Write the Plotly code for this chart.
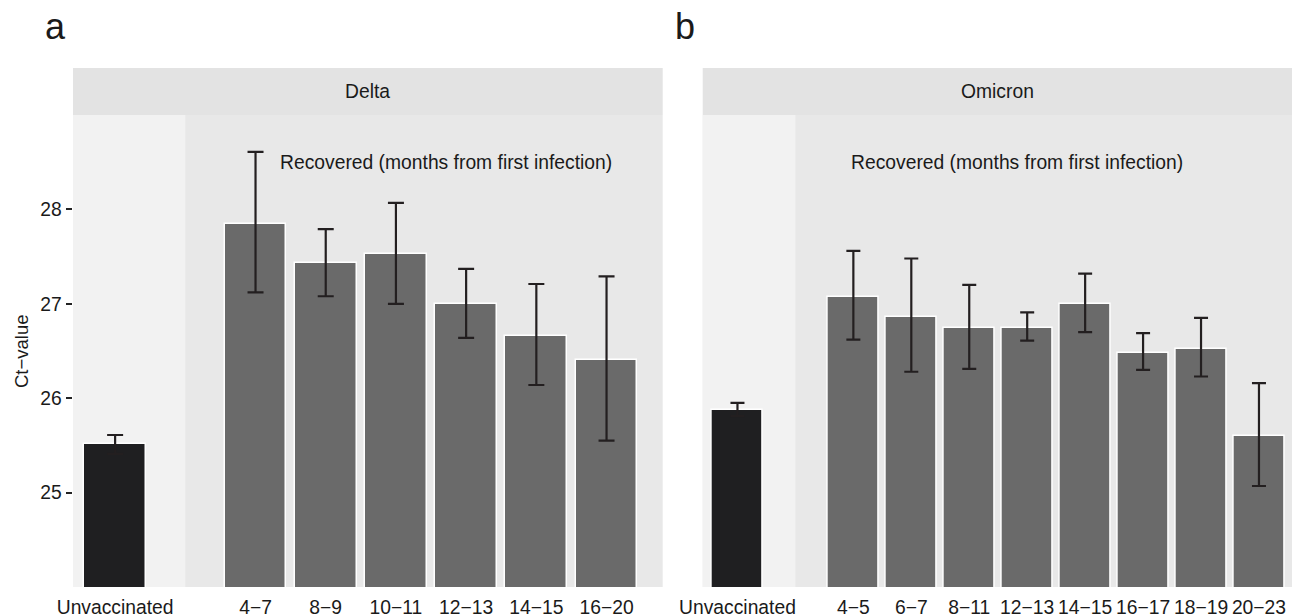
import plotly.graph_objects as go

# ---------------- data ----------------
delta_labels = ["Unvaccinated", "4−7", "8−9", "10−11", "12−13", "14−15", "16−20"]
delta_mean = [25.51, 27.85, 27.43, 27.53, 27.00, 26.66, 26.40]
delta_hi = [25.61, 28.61, 27.79, 28.07, 27.37, 27.21, 27.29]
delta_lo = [25.41, 27.12, 27.08, 27.00, 26.64, 26.14, 25.55]

omicron_labels = ["Unvaccinated", "4−5", "6−7", "8−11", "12−13", "14−15", "16−17", "18−19", "20−23"]
omicron_mean = [25.88, 27.07, 26.86, 26.74, 26.74, 27.00, 26.48, 26.52, 25.60]
omicron_hi = [25.95, 27.56, 27.48, 27.20, 26.91, 27.32, 26.69, 26.85, 26.16]
omicron_lo = [25.81, 26.62, 26.28, 26.31, 26.61, 26.70, 26.30, 26.23, 25.07]

panel_titles = ["Delta", "Omicron"]
panel_tags = ["a", "b"]
y_ticks = [25, 26, 27, 28]
note = "Recovered (months from first infection)"

# ---------------- layout helpers ----------------
W, H = 1292, 616
def px(x):
    return x / W
def py(y):
    return 1 - y / H

FONT = "Liberation Sans, Arial, sans-serif"
TXT = "#1a1a1a"
C_UNVAC = "#1f1f21"
C_REC = "#6a6a6a"
C_ERR = "#231f20"
C_PANEL = "#e8e8e8"
C_LIGHT = "#f2f2f2"
C_STRIP = "#e3e3e3"
FS = 19.3

panels = [
    dict(labels=delta_labels, mean=delta_mean, hi=delta_hi, lo=delta_lo,
         x0=73.0, x1=662.7, xr=[-0.6, 7.8], note_x=4.72, cap=8),
    dict(labels=omicron_labels, mean=omicron_mean, hi=omicron_hi, lo=omicron_lo,
         x0=702.7, x1=1292.0, xr=[-0.6, 9.57], note_x=4.83, cap=7),
]
Y_TOP, Y_BOT, STRIP_TOP = 115.0, 587.0, 68.0

fig = go.Figure()
shapes = []
annotations = []

for i, p in enumerate(panels):
    n = i + 1
    xa = "x" if n == 1 else f"x{n}"
    ya = "y" if n == 1 else f"y{n}"
    # positions: unvaccinated first, one empty slot, then recovered groups
    pos = [0] + [k + 2 for k in range(len(p["labels"]) - 1)]
    colors = [C_UNVAC] + [C_REC] * (len(p["labels"]) - 1)
    err_plus = [h - m for h, m in zip(p["hi"], p["mean"])]
    err_minus = [m - l for m, l in zip(p["mean"], p["lo"])]
    fig.add_trace(go.Bar(
        x=pos, y=p["mean"], width=0.88, xaxis=xa, yaxis=ya,
        marker=dict(color=colors, line=dict(color="white", width=1.5)),
        error_y=dict(type="data", symmetric=False, array=err_plus, arrayminus=err_minus,
                     color=C_ERR, thickness=2.2, width=p["cap"]),
        showlegend=False, hoverinfo="skip",
    ))
    # light background for unvaccinated column
    shapes.append(dict(type="rect", xref=xa, yref="paper", x0=p["xr"][0], x1=1.0,
                       y0=py(Y_BOT), y1=py(Y_TOP), fillcolor=C_LIGHT,
                       line=dict(width=0), layer="below"))
    # strip
    shapes.append(dict(type="rect", xref="paper", yref="paper", x0=px(p["x0"]), x1=px(p["x1"]),
                       y0=py(Y_TOP), y1=py(STRIP_TOP), fillcolor=C_STRIP,
                       line=dict(width=0), layer="below"))
    annotations.append(dict(text=panel_titles[i], xref="paper", yref="paper",
                            x=px((p["x0"] + p["x1"]) / 2), y=py((Y_TOP + STRIP_TOP) / 2),
                            showarrow=False, font=dict(size=FS, color=TXT, family=FONT),
                            xanchor="center", yanchor="middle"))
    annotations.append(dict(text=note, xref=xa, yref=ya, x=p["note_x"], y=28.5,
                            showarrow=False, font=dict(size=FS, color=TXT, family=FONT),
                            xanchor="center", yanchor="middle"))
    annotations.append(dict(text=panel_tags[i], xref="paper", yref="paper",
                            x=px(p["x0"] - 30), y=py(27), showarrow=False,
                            font=dict(size=36, color=TXT, family=FONT),
                            xanchor="left", yanchor="middle"))

    xaxis = dict(domain=[px(p["x0"]), min(1.0, px(p["x1"]))], range=p["xr"], anchor=ya,
                 tickvals=pos, ticktext=p["labels"], showgrid=False, zeroline=False,
                 ticks="outside", ticklen=3, tickcolor="rgba(0,0,0,0)", automargin=False,
                 tickfont=dict(size=FS, color=TXT, family=FONT), showline=False, fixedrange=True)
    yaxis = dict(domain=[py(Y_BOT), py(Y_TOP)], range=[24, 29], anchor=xa,
                 tickvals=y_ticks, showgrid=False, zeroline=False, showline=False,
                 fixedrange=True, automargin=False)
    if n == 1:
        yaxis.update(ticks="outside", ticklen=6.5, tickwidth=2.2, tickcolor="#222222",
                     tickfont=dict(size=FS, color=TXT, family=FONT))
    else:
        yaxis.update(showticklabels=False, ticks="")
    key = "" if n == 1 else str(n)
    fig.layout["xaxis" + key] = xaxis
    fig.layout["yaxis" + key] = yaxis

annotations.append(dict(text="Ct−value", xref="paper", yref="paper", x=px(21),
                        y=py((Y_TOP + Y_BOT) / 2), textangle=-90, showarrow=False,
                        font=dict(size=18.5, color=TXT, family=FONT),
                        xanchor="center", yanchor="middle"))

fig.update_layout(
    width=W, height=H, margin=dict(l=0, r=0, t=0, b=0, pad=0, autoexpand=False),
    paper_bgcolor="white", plot_bgcolor=C_PANEL,
    shapes=shapes, annotations=annotations, bargap=0,
    font=dict(family=FONT, color=TXT),
)
# remove the default page margin so the figure fills the window exactly
page_fix = "document.body.style.margin='0';document.body.style.overflow='hidden';"
fig.write_html("out.html", post_script=page_fix, config={"displayModeBar": False})
